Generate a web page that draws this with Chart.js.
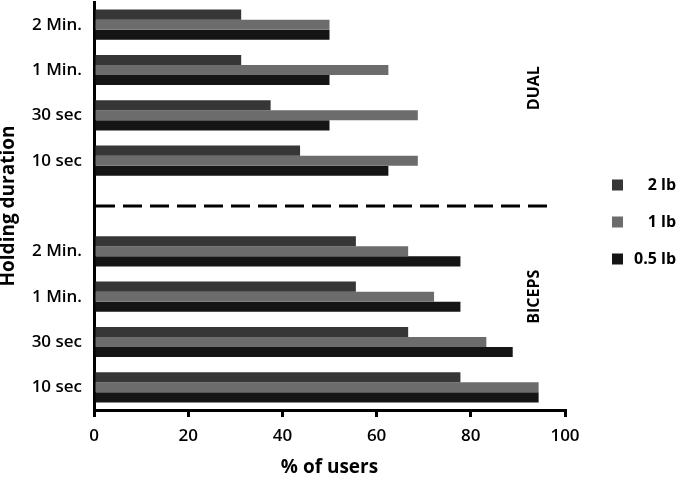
<!DOCTYPE html>
<html>
<head>
<meta charset="utf-8">
<script src="https://cdn.jsdelivr.net/npm/chart.js@4"></script>
<style>
  html,body{margin:0;padding:0;background:#fff;}
  #wrap{width:680px;height:483px;position:relative;}
</style>
</head>
<body>
<div id="wrap"><canvas id="c" width="680" height="483"></canvas></div>
<script>
const categories = ['2 Min.','1 Min.','30 sec','10 sec','','2 Min.','1 Min.','30 sec','10 sec'];
const lb2  = [31.25, 31.25, 37.5, 43.75, null, 55.6, 55.6, 66.7, 77.8];
const lb1  = [50, 62.5, 68.75, 68.75, null, 66.7, 72.2, 83.3, 94.4];
const lb05 = [50, 50, 50, 62.5, null, 77.8, 77.8, 88.9, 94.4];
const seriesNames = ['2 lb', '1 lb', '0.5 lb'];
const seriesColors = ['#363636', '#6c6c6c', '#151515'];
const xTicks = [0, 20, 40, 60, 80, 100];
const groupLabels = ['DUAL', 'BICEPS'];
const groupLabelAt = [1.4, 6.0];
const separatorIndex = 4;

const FONT = '"Open Sans", Lato, sans-serif';

const extras = {
  id: 'extras',
  afterDatasetsDraw(chart) {
    const ctx = chart.ctx;
    const xs = chart.scales.x, ys = chart.scales.y;
    // dashed separator
    ctx.save();
    ctx.strokeStyle = '#000';
    ctx.lineWidth = 3;
    ctx.setLineDash([19, 8]);
    ctx.beginPath();
    const yy = ys.getPixelForValue(separatorIndex);
    ctx.moveTo(xs.getPixelForValue(0) + 2, yy);
    ctx.lineTo(xs.getPixelForValue(96.5), yy);
    ctx.stroke();
    ctx.restore();
    // group labels
    ctx.save();
    ctx.fillStyle = '#000';
    ctx.font = 'bold 16px ' + FONT;
    ctx.textAlign = 'center';
    ctx.textBaseline = 'middle';
    groupLabels.forEach((t, i) => {
      ctx.save();
      ctx.translate(xs.getPixelForValue(93.5), ys.getPixelForValue(groupLabelAt[i]));
      ctx.rotate(-Math.PI / 2);
      ctx.fillText(t, 0, 0);
      ctx.restore();
    });
    ctx.restore();
    // legend
    ctx.save();
    ctx.font = 'bold 16px ' + FONT;
    ctx.textAlign = 'right';
    ctx.textBaseline = 'middle';
    const ly = [185, 222, 259];
    chart.data.datasets.forEach((ds, i) => {
      ctx.fillStyle = ds.backgroundColor;
      ctx.fillRect(612, ly[i] - 5.5, 11, 11);
      ctx.fillStyle = '#000';
      ctx.fillText(ds.label, 676, ly[i]);
    });
    ctx.restore();
  }
};

new Chart(document.getElementById('c'), {
  type: 'bar',
  data: {
    labels: categories,
    datasets: [
      { label: seriesNames[0], data: lb2,  backgroundColor: seriesColors[0] },
      { label: seriesNames[1], data: lb1,  backgroundColor: seriesColors[1] },
      { label: seriesNames[2], data: lb05, backgroundColor: seriesColors[2] }
    ]
  },
  options: {
    indexAxis: 'y',
    responsive: false,
    animation: false,
    devicePixelRatio: 1,
    layout: { padding: { top: 2, right: 115, left: 0, bottom: 0 } },
    datasets: { bar: { categoryPercentage: 0.665, barPercentage: 1.0 } },
    plugins: {
      legend: { display: false },
      tooltip: { enabled: false }
    },
    scales: {
      x: {
        min: 0, max: 100,
        afterBuildTicks(scale) { scale.ticks = xTicks.map(v => ({ value: v })); },
        afterFit(scale) { scale.height = 73; },
        grid: { display: true, drawOnChartArea: false, drawTicks: true, tickLength: 7, color: '#000', lineWidth: 3 },
        border: { display: true, color: '#000', width: 3 },
        ticks: { color: '#000', font: { family: FONT, size: 17, weight: '600' }, padding: 9 },
        title: { display: true, text: '% of users', color: '#000', font: { family: FONT, size: 19, weight: 'bold' }, padding: { top: 0, bottom: 4 } }
      },
      y: {
        afterFit(scale) { scale.width = 94; scale.paddingTop = 0; scale.paddingBottom = 0; },
        grid: { display: false, drawTicks: false },
        border: { display: true, color: '#000', width: 3 },
        ticks: { color: '#000', font: { family: FONT, size: 17, weight: '600' }, padding: 12, autoSkip: false },
        title: { display: true, text: 'Holding duration', color: '#000', font: { family: FONT, size: 19, weight: 'bold', lineHeight: 0.9 }, padding: 0 }
      }
    }
  },
  plugins: [extras]
});
</script>
</body>
</html>
